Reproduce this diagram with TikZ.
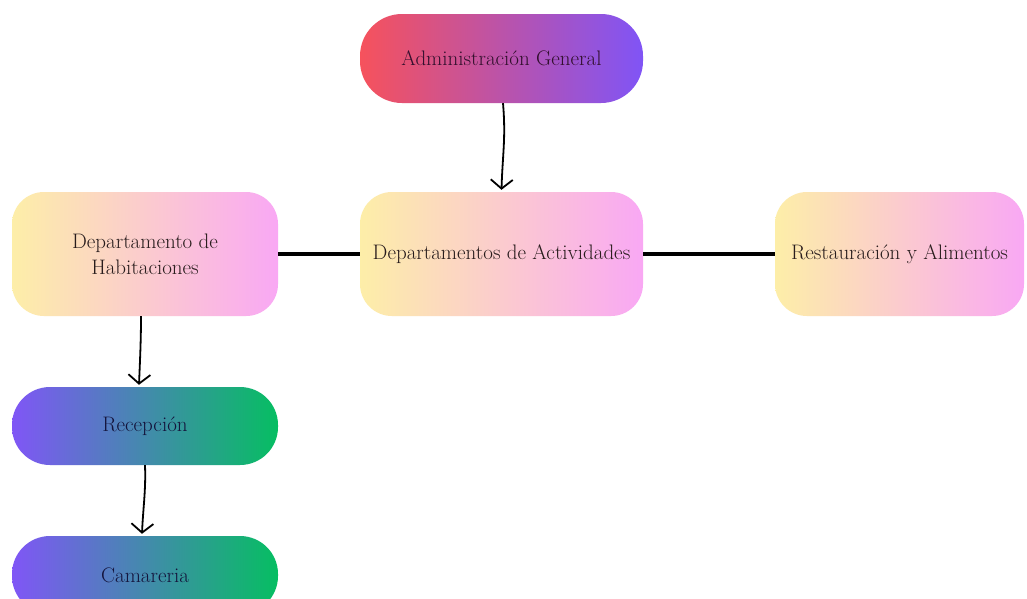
\documentclass[tikz,border=0pt]{standalone}
\usetikzlibrary{arrows.meta}
\definecolor{redA}{RGB}{246,82,92}
\definecolor{purA}{RGB}{128,84,246}
\definecolor{yelB}{RGB}{253,238,168}
\definecolor{pinB}{RGB}{249,168,244}
\definecolor{purC}{RGB}{128,86,246}
\definecolor{grnC}{RGB}{6,190,98}
\definecolor{txtA}{RGB}{50,15,45}
\definecolor{txtB}{RGB}{40,28,28}
\definecolor{txtC}{RGB}{20,20,60}
\tikzset{
  box/.style={draw=none, rectangle, align=center, inner sep=0pt,
    font=\fontsize{21}{26}\selectfont},
  topbox/.style={box, left color=redA, right color=purA, text=txtA,
    minimum width=283pt, minimum height=89pt, rounded corners=42pt},
  softbox/.style={box, left color=yelB, right color=pinB, text=txtB,
    minimum height=124pt, rounded corners=32pt},
  pillbox/.style={box, left color=purC, right color=grnC, text=txtC,
    minimum width=266pt, minimum height=78pt, rounded corners=38pt},
  arr/.style={draw=black, line width=1.8pt,
    -{Straight Barb[length=9pt,width=22pt,line width=1.8pt]}},
  thick link/.style={draw=black, line width=4.5pt}
}
\begin{document}
\begin{tikzpicture}[x=1pt,y=-1pt]
\clip (0,0) rectangle (1027,598);
\fill[white] (0,0) rectangle (1027,598);
\node[topbox] (admin) at (501.5,58.5) {Administración General};
\node[softbox, minimum width=266pt] (hab) at (145,254) {Departamento de\\Habitaciones};
\node[softbox, minimum width=283pt] (act) at (501.5,254) {Departamentos de Actividades};
\node[softbox, minimum width=249pt] (rest) at (899.5,254) {Restauración y Alimentos};
\node[pillbox] (rec) at (145,426) {Recepción};
\node[pillbox] (cam) at (145,575) {Camareria};
\draw[thick link] (hab.east) -- (act.west);
\draw[thick link] (act.east) -- (rest.west);
\draw[arr] ([xshift=1.5pt]admin.south) .. controls +(3,35) and +(1,-35) .. ([yshift=2pt]act.north);
\draw[arr] ([xshift=-4pt]hab.south) .. controls +(0,25) and +(1,-25) .. ([xshift=-6pt,yshift=2pt]rec.north);
\draw[arr] ([xshift=0pt]rec.south) .. controls +(1,25) and +(1,-25) .. ([xshift=-3pt,yshift=2pt]cam.north);
\end{tikzpicture}
\end{document}
